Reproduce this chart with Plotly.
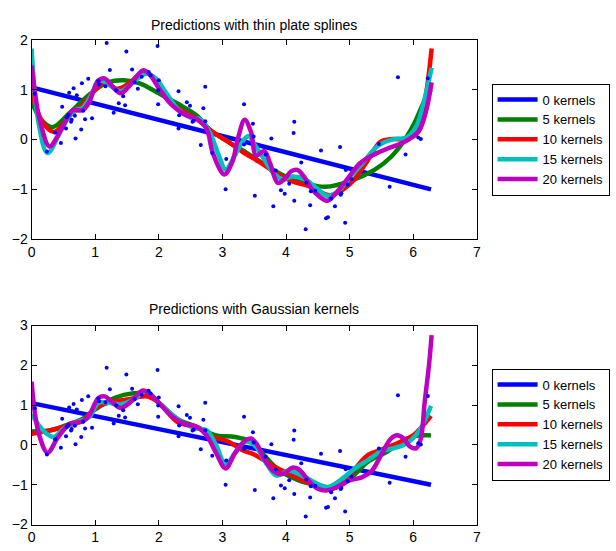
import plotly.graph_objects as go

# ---------------- data ----------------
dot_x = [0.05,0.24,0.46,0.37,0.48,0.54,0.55,0.58,0.59,0.62,0.63,0.66,0.68,0.69,0.71,0.79,0.78,0.84,0.81,0.89,
         0.95,1.05,1.06,1.18,1.16,1.23,1.29,1.33,1.37,1.44,1.47,1.49,1.58,1.62,1.67,1.73,1.84,1.87,1.98,2.00,
         1.99,1.99,2.31,2.32,2.31,2.44,2.49,2.55,2.53,2.73,2.70,2.73,2.66,2.84,3.06,3.05,3.34,3.34,3.48,3.51,
         3.49,3.68,3.77,3.80,3.84,3.92,3.98,4.05,4.13,4.12,4.13,4.24,4.31,4.32,4.39,4.38,4.46,4.55,4.63,4.66,
         4.85,4.71,4.77,4.86,4.87,4.93,4.94,4.97,5.03,5.46,5.63,5.76,5.88,6.08,6.12,6.23]
dot_y = [0.92,-0.24,-0.07,0.14,0.66,0.22,0.45,0.50,0.94,0.36,0.40,1.03,0.48,0.02,0.89,1.13,0.20,0.41,0.58,1.22,
         0.43,1.17,1.10,1.94,1.07,1.40,0.54,0.99,0.73,0.87,0.69,1.77,1.41,1.15,1.02,1.26,1.36,1.29,1.88,1.19,
         0.99,0.71,0.97,0.49,0.22,0.75,0.68,0.38,0.36,1.06,0.63,0.37,-0.11,-0.27,-0.39,-1.00,0.71,-0.10,0.32,-1.13,
         0.06,-0.30,0.02,-1.34,-0.62,-1.02,-1.09,-0.89,0.36,0.13,-1.23,-0.46,-1.80,-0.87,-1.04,-1.32,-1.03,-0.22,-1.58,-1.56,
         -0.15,-1.19,-1.34,-1.11,-1.08,-1.67,-0.61,-0.91,-0.80,-0.09,-0.95,1.25,-0.30,0.04,0.01,1.23]

series_names = ["0 kernels", "5 kernels", "10 kernels", "15 kernels", "20 kernels"]

# linear fit (0 kernels), same in both panels
lin_x = [0.0, 6.28]
lin_y = [1.05, -1.00]

# ---- thin plate splines (top) ----
tps5_x = [0.0,0.15,0.33,0.6,0.8,1.0,1.2,1.45,1.7,2.0,2.3,2.6,2.8,3.1,3.32,3.6,3.84,4.1,4.36,4.62,5.0,5.39,5.65,5.86,6.02,6.17,6.28]
tps5_y = [0.77,0.40,0.25,0.54,0.78,1.00,1.15,1.19,1.13,0.93,0.72,0.48,0.20,-0.05,-0.22,-0.45,-0.64,-0.80,-0.90,-0.95,-0.84,-0.61,-0.35,-0.02,0.33,0.76,1.00]

tps10_x = [0.0,0.15,0.35,0.6,0.8,1.0,1.15,1.35,1.55,1.75,1.9,2.0,2.3,2.6,2.85,3.1,3.32,3.58,3.84,4.1,4.35,4.7,5.0,5.27,5.48,5.68,5.89,6.04,6.17,6.29]
tps10_y = [1.00,0.40,0.15,0.48,0.70,1.00,1.15,1.02,1.15,1.36,1.26,1.06,0.64,0.41,0.15,-0.05,-0.25,-0.45,-0.67,-0.84,-0.93,-1.12,-0.90,-0.45,-0.05,0.01,0.01,0.17,0.69,1.83]

tps15_x = [0.0,0.1,0.25,0.45,0.6,0.7,0.8,0.95,1.05,1.15,1.4,1.55,1.8,1.95,2.1,2.3,2.5,2.65,2.8,2.95,3.05,3.2,3.35,3.42,3.5,3.65,3.8,3.95,4.1,4.3,4.5,4.65,4.8,5.0,5.2,5.45,5.7,5.9,6.05,6.18,6.29]
tps15_y = [1.83,0.40,-0.27,0.15,0.48,0.60,0.64,0.93,1.19,1.16,0.97,1.10,1.32,1.23,0.97,0.61,0.44,0.41,0.15,-0.34,-0.60,-0.31,0.02,0.07,-0.09,-0.38,-0.67,-0.80,-0.74,-0.80,-1.00,-1.13,-1.06,-0.77,-0.48,-0.12,0.01,0.04,0.27,0.82,1.44]

tps20_x = [0.0,0.05,0.12,0.28,0.4,0.55,0.65,0.8,0.9,1.05,1.15,1.25,1.4,1.55,1.75,1.85,2.0,2.2,2.4,2.6,2.75,2.85,3.03,3.15,3.25,3.35,3.45,3.53,3.66,3.75,3.87,3.97,4.08,4.18,4.28,4.41,4.54,4.65,4.77,4.96,5.16,5.37,5.58,5.79,5.94,6.09,6.2,6.29]
tps20_y = [1.49,0.97,0.44,-0.14,0.05,0.41,0.59,0.59,0.74,1.19,1.23,1.10,0.93,1.10,1.39,1.32,1.03,0.70,0.51,0.41,0.22,-0.27,-0.70,-0.47,0.05,0.40,0.15,-0.32,-0.23,-0.48,-0.87,-0.80,-0.64,-0.61,-0.74,-1.00,-1.16,-1.23,-1.10,-0.80,-0.48,-0.31,-0.19,-0.09,0.01,0.17,0.56,1.15]

# ---- Gaussian kernels (bottom) ----
g5_x = [0.0,0.3,0.6,0.8,1.0,1.3,1.6,1.8,2.0,2.3,2.6,2.9,3.2,3.45,3.6,3.9,4.2,4.5,4.7,5.0,5.3,5.6,5.9,6.1,6.28]
g5_y = [0.34,0.37,0.53,0.65,0.89,1.18,1.30,1.28,1.06,0.65,0.45,0.24,0.20,0.08,-0.16,-0.65,-0.89,-1.02,-1.06,-0.85,-0.41,-0.16,0.16,0.24,0.24]

g10_x = [0.0,0.3,0.5,0.8,1.0,1.2,1.5,1.8,2.0,2.3,2.6,2.85,3.1,3.3,3.5,3.8,4.1,4.4,4.65,4.9,5.1,5.3,5.5,5.8,6.0,6.28]
g10_y = [0.28,0.37,0.45,0.61,0.93,1.06,1.14,1.22,1.06,0.57,0.45,0.20,0.08,-0.12,-0.24,-0.53,-0.77,-0.98,-1.10,-0.98,-0.57,-0.24,-0.12,0.08,0.24,0.73]

g15_x = [0.0,0.2,0.35,0.5,0.7,0.9,1.05,1.2,1.4,1.6,1.8,2.0,2.2,2.4,2.6,2.75,2.9,3.05,3.2,3.35,3.5,3.7,3.85,4.05,4.25,4.5,4.65,4.85,5.1,5.3,5.5,5.7,5.9,6.1,6.28]
g15_y = [0.77,0.33,0.20,0.41,0.57,0.69,1.06,1.06,1.02,1.14,1.34,1.06,0.77,0.53,0.41,0.37,0.00,-0.49,-0.20,0.08,0.00,-0.49,-0.77,-0.65,-0.77,-0.98,-1.06,-0.89,-0.57,-0.37,-0.16,-0.08,0.04,0.37,0.98]

g20_x = [0.0,0.05,0.12,0.25,0.4,0.5,0.6,0.8,0.9,1.05,1.15,1.25,1.4,1.55,1.75,1.9,2.0,2.2,2.4,2.6,2.75,2.9,3.05,3.2,3.35,3.45,3.55,3.65,3.8,3.95,4.1,4.2,4.35,4.5,4.65,4.8,5.0,5.2,5.35,5.5,5.65,5.75,5.85,5.95,6.05,6.12,6.18,6.25,6.29]
g20_y = [1.59,0.81,0.24,-0.20,0.16,0.37,0.53,0.59,0.73,1.18,1.22,1.10,0.93,1.07,1.37,1.22,1.06,0.73,0.53,0.45,0.24,-0.20,-0.59,-0.20,0.10,0.16,0.00,-0.33,-0.65,-0.73,-0.57,-0.61,-0.89,-1.10,-1.14,-1.06,-0.89,-0.81,-0.65,-0.24,0.16,0.24,0.16,-0.04,-0.08,0.16,1.06,2.03,2.76]

top_curves = [(lin_x, lin_y), (tps5_x, tps5_y), (tps10_x, tps10_y), (tps15_x, tps15_y), (tps20_x, tps20_y)]
bot_curves = [(lin_x, lin_y), (g5_x, g5_y), (g10_x, g10_y), (g15_x, g15_y), (g20_x, g20_y)]

colors = ["#0000FF", "#008000", "#FF0000", "#00BFBF", "#BF00BF"]
FONT = "Liberation Sans, Arial, Helvetica, sans-serif"

fig = go.Figure()

for (cx, cy), name, col in zip(top_curves, series_names, colors):
    fig.add_trace(go.Scatter(x=cx, y=cy, mode="lines", name=name,
                             line=dict(color=col, width=4.5, shape="spline", smoothing=1.0),
                             xaxis="x", yaxis="y", legend="legend"))
fig.add_trace(go.Scatter(x=dot_x, y=dot_y, mode="markers", showlegend=False,
                         marker=dict(color="#0000FF", size=4), xaxis="x", yaxis="y"))

for (cx, cy), name, col in zip(bot_curves, series_names, colors):
    fig.add_trace(go.Scatter(x=cx, y=cy, mode="lines", name=name,
                             line=dict(color=col, width=4.5, shape="spline", smoothing=1.0),
                             xaxis="x2", yaxis="y2", legend="legend2"))
fig.add_trace(go.Scatter(x=dot_x, y=dot_y, mode="markers", showlegend=False,
                         marker=dict(color="#0000FF", size=4), xaxis="x2", yaxis="y2"))

W, H = 616, 551
xd = [28 / W, 479 / W]
axis_common = dict(showline=True, linecolor="black", linewidth=1, mirror="ticks",
                   ticks="inside", ticklen=5, tickcolor="black", tickwidth=1,
                   showgrid=False, zeroline=False,
                   tickfont=dict(family=FONT, size=14, color="black"))

legend_common = dict(xanchor="left", yanchor="middle",
                     bordercolor="black", borderwidth=1, bgcolor="white",
                     font=dict(family=FONT, size=13, color="black"), itemwidth=40,
                     tracegroupgap=0)

fig.update_layout(
    width=W, height=H,
    margin=dict(l=0, r=0, t=0, b=0),
    paper_bgcolor="white", plot_bgcolor="white",
    font=dict(family=FONT, color="black"),
    xaxis=dict(domain=xd, range=[0, 7], dtick=1, anchor="y", **axis_common),
    yaxis=dict(domain=[1 - 238 / H, 1 - 33 / H], range=[-2, 2], dtick=1, anchor="x", **axis_common),
    xaxis2=dict(domain=xd, range=[0, 7], dtick=1, anchor="y2", **axis_common),
    yaxis2=dict(domain=[1 - 532 / H, 1 - 327 / H], range=[-2, 3], dtick=1, anchor="x2", **axis_common),
    legend=dict(x=494 / W, y=1 - 135.5 / H, **legend_common),
    legend2=dict(x=494 / W, y=1 - 429 / H, **legend_common),
    annotations=[
        dict(text="Predictions with thin plate splines", x=(xd[0] + xd[1]) / 2, y=1 - 17 / H,
             xref="paper", yref="paper", xanchor="center", yanchor="middle", showarrow=False,
             font=dict(family=FONT, size=14, color="black")),
        dict(text="Predictions with Gaussian kernels", x=(xd[0] + xd[1]) / 2, y=1 - 310 / H,
             xref="paper", yref="paper", xanchor="center", yanchor="middle", showarrow=False,
             font=dict(family=FONT, size=14, color="black")),
    ],
)

fig.write_html("out.html")
